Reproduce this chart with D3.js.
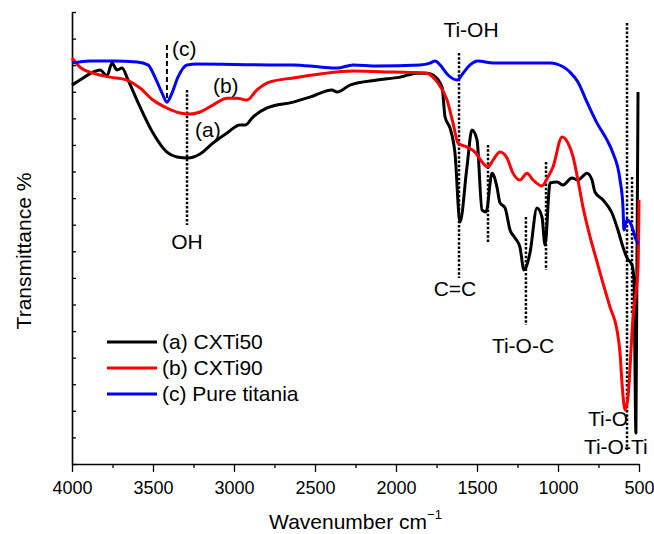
<!DOCTYPE html>
<html>
<head>
<meta charset="utf-8">
<script src="https://cdn.jsdelivr.net/npm/d3@7"></script>
<style>
  body { margin: 0; background: #fff; }
  text { font-family: "Liberation Sans", Arial, sans-serif; fill: #000; }
</style>
</head>
<body>
<div id="chart"></div>
<script>
// wavenumber (cm-1), transmittance (arbitrary units, axis has no labels)
const cxti50 = [
  [4000,14.25],[3951,14.44],[3870,14.74],[3827,14.82],[3784,14.60],[3753,15.08],[3722,14.82],
  [3691,14.89],[3654,14.44],[3580,13.43],[3500,12.45],[3414,11.73],[3352,11.55],[3284,11.51],
  [3210,11.66],[3130,12.07],[3043,12.45],[2963,12.75],[2932,12.75],[2883,13.05],[2796,13.39],
  [2636,13.61],[2531,13.80],[2395,14.07],[2364,13.99],[2284,14.25],[2117,14.44],[1975,14.55],
  [1870,14.70],[1809,14.70],[1772,14.63],[1716,14.18],[1697,13.05],[1667,12.64],[1636,11.70],
  [1605,9.10],[1562,11.17],[1531,12.56],[1500,12.19],[1469,9.55],[1444,9.48],[1407,10.94],
  [1377,10.42],[1358,9.82],[1327,9.63],[1296,8.80],[1265,8.50],[1235,8.16],[1210,7.30],
  [1173,7.94],[1130,9.63],[1099,9.29],[1080,8.24],[1049,10.57],[1006,10.61],[969,10.49],
  [914,10.76],[877,10.68],[821,10.94],[790,10.68],[772,10.23],[722,9.93],[667,9.44],
  [630,8.80],[599,8.16],[574,7.75],[543,7.48],[531,6.92],[519,1.17],[506,13.99]
];
const cxti90 = [
  [4000,15.27],[3951,14.93],[3870,14.70],[3765,14.55],[3660,14.44],[3580,14.14],[3500,13.69],
  [3414,13.39],[3333,13.20],[3272,13.16],[3210,13.24],[3130,13.50],[3043,13.76],[2981,13.76],
  [2920,13.69],[2858,14.07],[2778,14.37],[2636,14.52],[2469,14.67],[2265,14.78],[2018,14.74],
  [1809,14.70],[1772,14.55],[1741,14.33],[1685,13.69],[1648,12.82],[1617,12.07],[1562,11.92],
  [1512,11.73],[1469,11.36],[1432,11.17],[1401,11.43],[1358,11.73],[1315,11.51],[1278,10.94],
  [1235,10.68],[1191,10.94],[1154,10.68],[1099,10.46],[1062,10.79],[1031,11.17],[975,12.30],
  [938,12.07],[907,11.55],[877,10.68],[846,9.67],[802,8.54],[759,7.60],[728,6.92],[679,5.90],
  [636,5.04],[617,4.17],[605,3.05],[586,2.03],[568,2.52],[537,5.53],[506,7.41],[500,9.93]
];
const pureTitania = [
  [4000,15.08],[3889,15.16],[3747,15.16],[3599,15.12],[3531,15.01],[3488,14.55],[3444,13.95],
  [3414,13.61],[3383,13.95],[3346,14.55],[3290,15.01],[3228,15.04],[2778,15.01],[2636,15.01],
  [2469,14.93],[2364,14.89],[2265,15.01],[2117,14.97],[1852,15.01],[1790,15.08],[1759,15.16],
  [1728,15.01],[1679,14.63],[1623,14.44],[1586,14.70],[1543,15.01],[1494,15.16],[1401,15.08],
  [1049,15.08],[1006,15.04],[926,14.74],[877,14.37],[821,13.61],[759,12.82],[698,12.19],
  [661,11.70],[617,10.68],[599,9.67],[593,8.80],[574,9.18],[556,9.10],[537,8.80],[512,8.35],[500,8.31]
];

const seriesNames = ["(a) CXTi50", "(b) CXTi90", "(c) Pure titania"];
const seriesColors = ["#000000", "#ff0000", "#0000ff"];
const seriesData = [cxti50, cxti90, pureTitania];

// marker lines: wavenumber, from, to, style
const markWave = [3414, 3290, 1611, 1432, 1198, 1074, 574, 543];
const markFrom = [15.76, 14.07, 15.46, 12.0, 9.29, 11.36, 16.59, 10.79];
const markTo   = [13.69, 8.99, 7.0, 8.35, 5.23, 7.30, 0.53, 5.6];
const markDash = ["dash", "dot", "dot", "dot", "dot", "dot", "dot", "dot"];

// annotation labels: text, wavenumber, value, anchor
const labelText   = ["(c)", "(b)", "(a)", "OH", "Ti-OH", "C=C", "Ti-O-C", "Ti-O", "Ti-O-Ti"];
const labelWave   = [3383, 3130, 3241, 3290, 1537, 1636, 1216, 568, 840];
const labelValue  = [15.34, 13.95, 12.30, 8.09, 16.06, 6.32, 4.17, 1.43, 0.38];
const labelAnchor = ["start", "start", "start", "middle", "middle", "middle", "middle", "end", "start"];

const xTicks = d3.range(4000, 499, -250);
const yTicks = d3.range(0, 18);

const W = 654, H = 534;
const margin = { top: 12, right: 15, bottom: 70, left: 72 };

const svg = d3.select("#chart").append("svg")
  .attr("width", W).attr("height", H);

const x = d3.scaleLinear().domain([4000, 500]).range([margin.left, W - margin.right]);
const y = d3.scaleLinear().domain([0, 17]).range([H - margin.bottom, margin.top]);

// x axis, labelled every 500, minor ticks in between
const xAxis = svg.append("g")
  .attr("transform", `translate(0,${H - margin.bottom})`)
  .call(d3.axisBottom(x).tickValues(xTicks).tickSize(8).tickSizeOuter(0).tickPadding(9)
    .tickFormat(d => d % 500 === 0 ? d : ""));
xAxis.select(".domain").attr("stroke-width", 1.6);
xAxis.selectAll(".tick line")
  .attr("stroke-width", 1.3)
  .attr("y2", d => d % 500 === 0 ? 8 : 4);
xAxis.selectAll("text").style("font-size", "18px").style("font-family", "Liberation Sans, Arial, sans-serif");

// y axis (no labels, inward ticks)
const yAxis = svg.append("g")
  .attr("transform", `translate(${margin.left},0)`)
  .call(d3.axisLeft(y).tickValues(yTicks).tickSize(-4).tickSizeOuter(0).tickFormat(""));
yAxis.select(".domain").attr("stroke-width", 1.6);
yAxis.selectAll(".tick line").attr("stroke-width", 1.3);

// marker lines
markWave.forEach((w, i) => {
  svg.append("line")
    .attr("x1", x(w)).attr("x2", x(w))
    .attr("y1", y(markFrom[i])).attr("y2", y(markTo[i]))
    .attr("stroke", "#000")
    .attr("stroke-width", markDash[i] === "dash" ? 2 : 2.5)
    .attr("stroke-dasharray", markDash[i] === "dash" ? "5,3" : "2.5,1.8");
});

// spectra
const line = d3.line()
  .x(d => x(d[0]))
  .y(d => y(d[1]))
  .curve(d3.curveMonotoneX);

seriesData.forEach((data, i) => {
  svg.append("path")
    .datum(data)
    .attr("fill", "none")
    .attr("stroke", seriesColors[i])
    .attr("stroke-width", 3)
    .attr("stroke-linejoin", "round")
    .attr("d", line);
});

// annotation labels
labelText.forEach((t, i) => {
  svg.append("text")
    .attr("x", x(labelWave[i]))
    .attr("y", y(labelValue[i]))
    .attr("text-anchor", labelAnchor[i])
    .style("font-size", "21px")
    .text(t);
});

// legend
const legend = svg.append("g");
seriesNames.forEach((name, i) => {
  const ly = 342 + i * 26;
  legend.append("line")
    .attr("x1", 107).attr("x2", 157)
    .attr("y1", ly).attr("y2", ly)
    .attr("stroke", seriesColors[i]).attr("stroke-width", 3);
  legend.append("text")
    .attr("x", 162).attr("y", ly + 7)
    .style("font-size", "21px")
    .text(name);
});

// axis titles
const xt = svg.append("text")
  .attr("x", (margin.left + W - margin.right) / 2)
  .attr("y", 529)
  .attr("text-anchor", "middle")
  .style("font-size", "21px");
xt.append("tspan").text("Wavenumber cm");
xt.append("tspan").attr("dy", -10).style("font-size", "13px").text("\u22121");

svg.append("text")
  .attr("transform", "translate(31,251) rotate(-90)")
  .attr("text-anchor", "middle")
  .style("font-size", "21px")
  .text("Transmittance %");
</script>
</body>
</html>
